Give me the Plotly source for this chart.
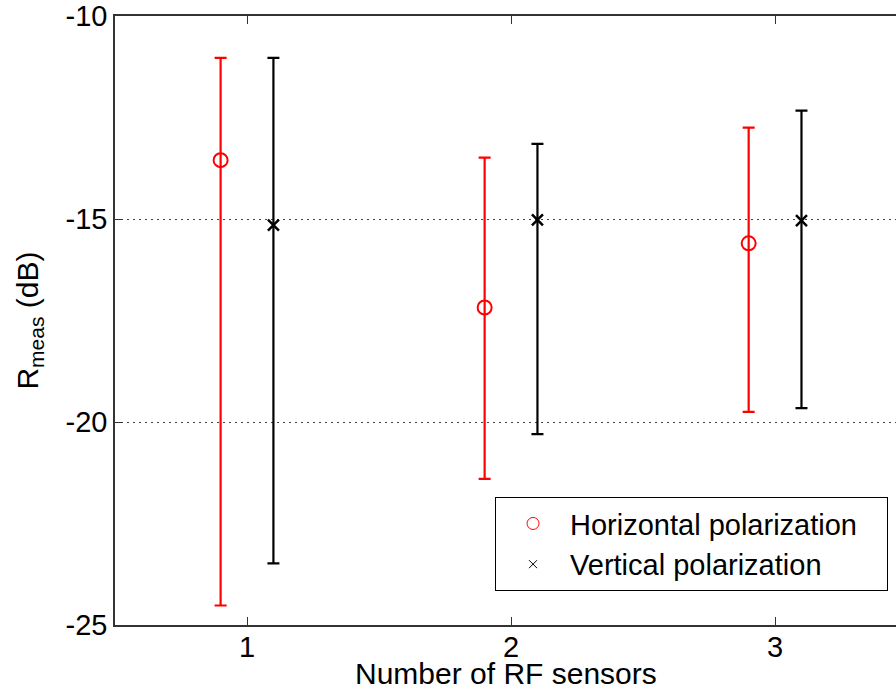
import plotly.graph_objects as go

sensors = [1, 2, 3]
offset = 0.1

h_mean = [-13.55, -17.18, -15.60]
h_upper = [-11.03, -13.49, -12.75]
h_lower = [-24.52, -21.40, -19.75]

v_mean = [-15.15, -15.02, -15.04]
v_upper = [-11.03, -13.15, -12.33]
v_lower = [-23.48, -20.30, -19.66]

y_ticks = [-25, -20, -15, -10]

FONT = "Liberation Sans, Arial, Helvetica, sans-serif"
FS = 30

hx = [s - offset for s in sensors]
vx = [s + offset for s in sensors]

fig = go.Figure()

fig.add_trace(go.Scatter(
    x=hx, y=h_mean, mode="markers", showlegend=False,
    marker=dict(symbol="circle-open", size=14, color="red", line=dict(width=2, color="red")),
    error_y=dict(type="data", symmetric=False,
                 array=[u - m for u, m in zip(h_upper, h_mean)],
                 arrayminus=[m - l for m, l in zip(h_mean, h_lower)],
                 color="red", thickness=2.2, width=6),
))
fig.add_trace(go.Scatter(
    x=vx, y=v_mean, mode="markers", showlegend=False,
    marker=dict(symbol="x-thin-open", size=11, color="black", line=dict(width=2.5, color="black")),
    error_y=dict(type="data", symmetric=False,
                 array=[u - m for u, m in zip(v_upper, v_mean)],
                 arrayminus=[m - l for m, l in zip(v_mean, v_lower)],
                 color="black", thickness=2.2, width=6),
))
# legend entries
fig.add_trace(go.Scatter(
    x=[None], y=[None], mode="markers", name="Horizontal polarization&nbsp;&nbsp;&nbsp;",
    marker=dict(symbol="circle-open", size=12, color="red", line=dict(width=1, color="red")),
))
fig.add_trace(go.Scatter(
    x=[None], y=[None], mode="markers", name="Vertical polarization",
    marker=dict(symbol="x-thin-open", size=8, color="black", line=dict(width=1, color="black")),
))
# dummy trace to activate xaxis2 (top frame line)
fig.add_trace(go.Scatter(x=[None], y=[None], xaxis="x2", showlegend=False, hoverinfo="skip"))

xr = [0.5, 3.458]

fig.update_layout(
    width=896, height=694,
    margin=dict(l=115, r=0, t=16, b=69, autoexpand=False),
    paper_bgcolor="white", plot_bgcolor="white",
    font=dict(family=FONT, size=FS, color="black"),
    showlegend=True,
    legend=dict(
        x=0.4866, y=0.21, xanchor="left", yanchor="top",
        bgcolor="white", bordercolor="black", borderwidth=1,
        font=dict(family=FONT, size=29, color="black"),
        tracegroupgap=0, itemsizing="trace", itemwidth=64,
    ),
    xaxis=dict(
        range=xr, tickvals=sensors, ticktext=[str(s) for s in sensors],
        ticks="inside", ticklen=8, tickcolor="#333", tickwidth=1,
        showline=True, linecolor="#333", linewidth=1.5,
        showgrid=False, zeroline=False, automargin=False,
        ticklabelstandoff=-5,
        tickfont=dict(family=FONT, size=29),
    ),
    xaxis2=dict(
        range=xr, tickvals=sensors, overlaying="x", side="top",
        ticks="inside", ticklen=8, tickcolor="#333", tickwidth=1,
        showline=True, linecolor="#333", linewidth=1.5,
        showgrid=False, zeroline=False, showticklabels=False, automargin=False,
    ),
    yaxis=dict(
        range=[-25, -10], tickvals=y_ticks, ticktext=[str(t) for t in y_ticks],
        ticks="inside", ticklen=8, tickcolor="#333", tickwidth=1,
        showline=True, linecolor="#333", linewidth=1.5,
        showgrid=True, gridcolor="#444", gridwidth=1, griddash="2px,4px",
        zeroline=False, automargin=False,
        tickfont=dict(family=FONT, size=29),
    ),
    annotations=[
        dict(text="Number of RF sensors", xref="paper", yref="paper",
             x=0.5, y=-0.080, xanchor="center", yanchor="middle",
             showarrow=False, font=dict(family=FONT, size=FS)),
        dict(text="R<sub>meas</sub> (dB)", xref="paper", yref="paper",
             x=-0.11, y=0.5, xanchor="center", yanchor="middle", textangle=-90,
             showarrow=False, font=dict(family=FONT, size=30)),
    ],
)

fig.write_html("out.html", config={"displayModeBar": False},
               post_script="document.body.style.margin='0';document.body.style.overflow='hidden';")
